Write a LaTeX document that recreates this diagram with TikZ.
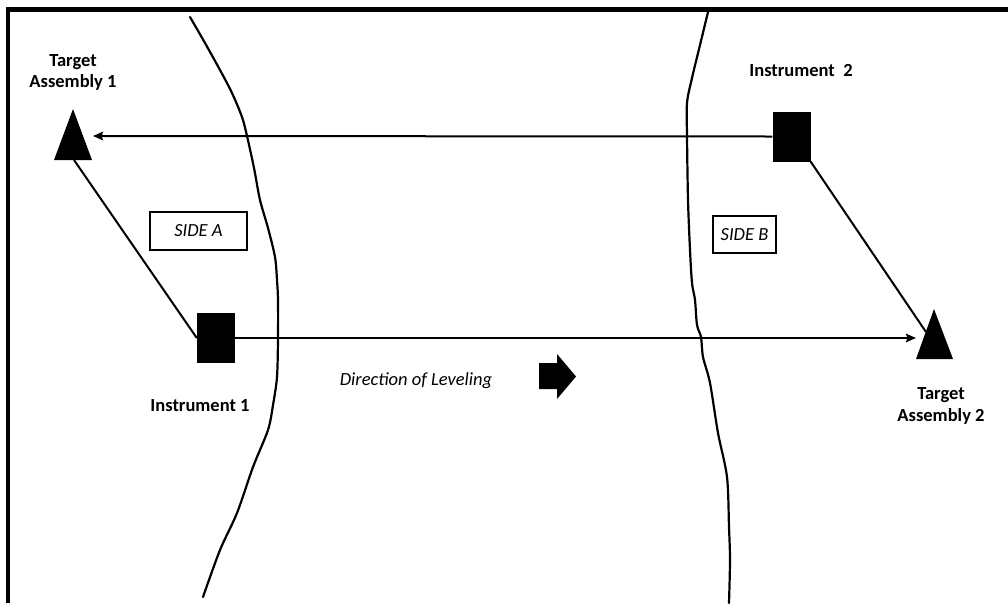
\documentclass[tikz,border=0pt]{standalone}
\usepackage{fontspec}
\setmainfont{Carlito}
\usetikzlibrary{arrows.meta}
\begin{document}
\begin{tikzpicture}[x=1pt,y=-1pt,
  lbl/.style={font=\bfseries\fontsize{18.5}{21.5}\selectfont, align=center, inner sep=0pt},
  ital/.style={font=\itshape\fontsize{18.5}{21.5}\selectfont, inner sep=0pt},
  sidebox/.style={draw, line width=2pt, ital},
  inst/.style={fill=black, inner sep=0pt, minimum width=38pt, minimum height=50pt},
  conn/.style={line width=2pt},
  arr/.style={line width=2pt, -{Stealth[length=10pt,width=8.5pt,inset=1.5pt]}},
  bank/.style={line width=2.2pt, line join=round, line cap=round},
  target/.style={fill=black}
]
\useasboundingbox (0,0) rectangle (1008,603);
\fill[white] (0,0) rectangle (1008,603);

% frame (top and left edges)
\draw[line width=4.5pt] (8,603) -- (8,9.5) -- (1008,9.5);

% river banks
\draw[bank] plot[smooth, tension=0.5] coordinates {(190,17) (205,43) (220,70) (232,93) (242,117) (247,136) (254,168) (260,200) (268,228) (275,257) (277,280) (278,300) (278,338) (277,377) (273,405) (268,430) (253,467) (237,513) (220,550) (203,597)};
\draw[bank] plot[smooth, tension=0.5] coordinates {(708,12) (700,45) (692,78) (687,103) (687,136) (688,200) (690,250) (692,283) (695,300) (697,325) (701,337) (703,357) (710,383) (718,433) (727,477) (729,527) (730,560) (729,603)};

% target assemblies
\fill[target] (73,109) -- (92,160) -- (54,160) -- cycle;
\fill[target] (934,309) -- (953,359) -- (916,359) -- cycle;
\coordinate (t1tip) at (93,136);
\coordinate (t1base) at (74,160);
\coordinate (t2tip) at (916,338);
\coordinate (t2side) at (926,332);

% instruments
\node[inst] (i1) at (216,338) {};
\node[inst] (i2) at (791.5,136.5) {};

% connectors
\draw[arr] (i2.west) -- (t1tip);
\draw[arr] (i1.east) -- (t2tip);
\draw[conn] (t1base) -- (i1.west);
\draw[conn] (i2.south east) -- (t2side);

% side boxes
\node[sidebox, minimum width=97pt, minimum height=38pt] (sa) at (198.5,231) {SIDE A};
\node[sidebox, minimum width=63pt, minimum height=37pt] (sb) at (744.5,234.5) {SIDE B};

% labels
\node[lbl] (lt1) at (73,72.4) {Target\\Assembly 1};
\node[lbl] (lt2) at (941,405.9) {Target\\Assembly 2};
\node[lbl, anchor=base] (li1) at (200,411) {Instrument 1};
\node[lbl, anchor=base] (li2) at (801,76) {Instrument\ \ 2};
\node[ital, anchor=base] (dir) at (416,385) {Direction of Leveling};

% direction block arrow
\fill (539,363) -- (557,363) -- (557,354) -- (576,376.5) -- (557,399) -- (557,389) -- (539,389) -- cycle;
\end{tikzpicture}
\end{document}
